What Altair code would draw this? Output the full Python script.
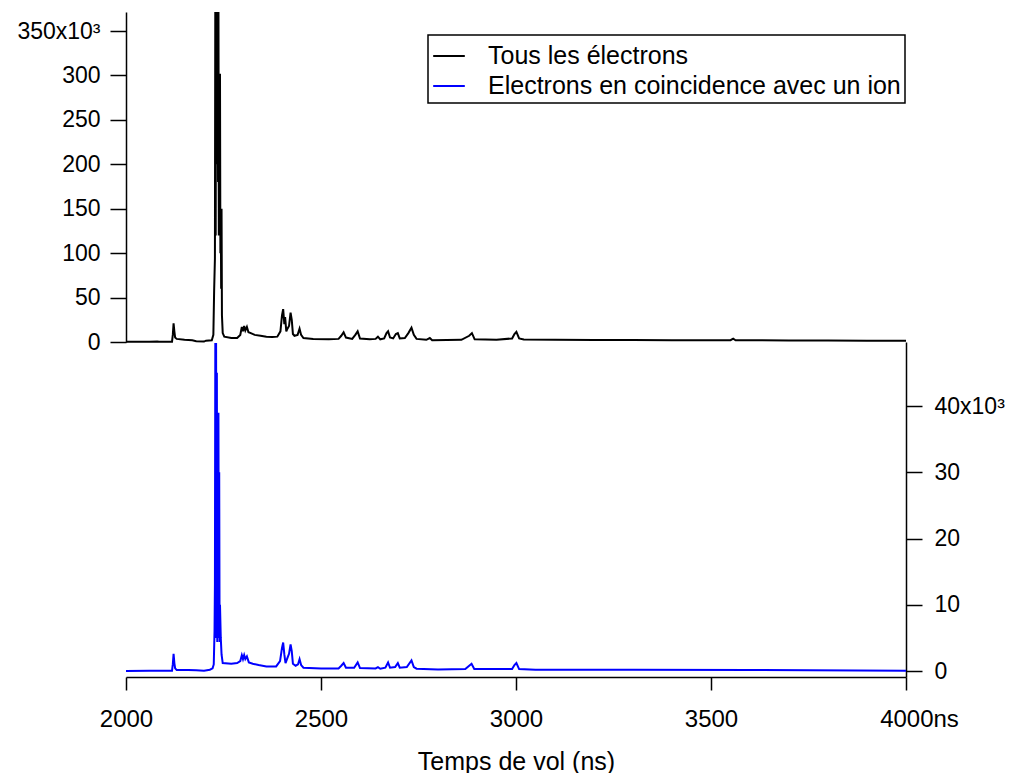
import altair as alt
import pandas as pd

S1 = "Tous les électrons"
S2 = "Electrons en coincidence avec un ion"

# Temps de vol (ns) and counts (x10^3) for all electrons
tous_t = [2000, 2060, 2080, 2085, 2118, 2120, 2122, 2124, 2126, 2130,
          2150, 2170, 2180, 2200, 2205, 2220, 2224, 2226, 2228, 2229,
          2230, 2231, 2232, 2233, 2234, 2235, 2236, 2237, 2238, 2239,
          2240, 2241, 2242, 2243, 2244, 2245, 2246, 2248, 2252, 2270,
          2285, 2293, 2297, 2300, 2303, 2306, 2310, 2314, 2320, 2330,
          2345, 2360, 2375, 2388, 2396, 2400, 2403, 2406, 2408, 2411,
          2414, 2418, 2422, 2425, 2428, 2432, 2440, 2445, 2449, 2455,
          2480, 2520, 2545, 2552, 2558, 2564, 2580, 2588, 2594, 2600,
          2625, 2640, 2646, 2652, 2662, 2668, 2672, 2677, 2685, 2692,
          2697, 2702, 2715, 2724, 2732, 2738, 2745, 2770, 2779, 2785,
          2860, 2880, 2887, 2894, 2950, 2990, 2996, 3001, 3008, 3020,
          3100, 3200, 3300, 3400, 3550, 3557, 3563, 3700, 3800, 3900,
          4000]
tous_v = [0.3, 0.3, 0.6, 0.3, 0.3, 8, 21, 12, 5, 3.5,
          2.5, 2, 0.8, 0.5, 1.5, 2, 8, 58, 94, 400,
          120, 400, 200, 400, 250, 380, 180, 400, 120, 302,
          140, 302, 100, 150, 60, 150, 30, 10, 6, 4.5,
          4.5, 8, 17, 12, 18, 13, 17, 11, 10, 8,
          7, 6, 5.5, 6, 12, 30, 37, 20, 28, 12,
          15, 18, 33, 25, 9, 7, 8, 15, 8, 4.5,
          3.5, 3, 3.5, 7, 11, 5, 3.5, 8, 12, 4,
          3, 3.5, 6, 3, 4, 10, 12, 5, 4, 9,
          10, 4, 4.5, 10, 16, 8, 3.5, 2.5, 4.5, 2,
          2.5, 7, 10, 3, 2.5, 4, 9, 11.5, 4, 2.8,
          2.5, 2.3, 2.2, 2, 2, 3.7, 2, 1.8, 1.6, 1.5,
          1.5]

# Electrons in coincidence with an ion (x10^3)
coinc_t = [2000, 2060, 2118, 2120, 2122, 2124, 2126, 2130, 2160, 2180,
           2200, 2215, 2222, 2225, 2227, 2228, 2229, 2230, 2231, 2232,
           2233, 2234, 2235, 2236, 2237, 2238, 2239, 2240, 2241, 2243,
           2245, 2248, 2270, 2285, 2293, 2297, 2300, 2303, 2306, 2310,
           2315, 2325, 2340, 2360, 2385, 2395, 2400, 2403, 2406, 2409,
           2414, 2418, 2422, 2425, 2428, 2435, 2441, 2445, 2449, 2455,
           2500, 2545, 2552, 2558, 2564, 2585, 2594, 2600, 2640, 2646,
           2652, 2665, 2672, 2677, 2690, 2697, 2702, 2720, 2732, 2738,
           2745, 2800, 2870, 2880, 2886, 2893, 2990, 2996, 3001, 3008,
           3050, 3300, 3600, 4000]
coinc_v = [0, 0.05, 0.05, 1, 2.6, 1.2, 0.4, 0.15, 0.15, 0.1,
           0.05, 0.2, 0.4, 1, 6, 13, 49.5, 5, 49.5, 6,
           45, 4.4, 39, 5, 39, 6, 30, 4.4, 10, 5,
           2.5, 1.2, 1.1, 1.2, 1.5, 2.4, 1.8, 2.4, 1.8, 2.2,
           1.3, 1.1, 0.9, 0.7, 0.7, 1.5, 3.5, 4.3, 2.5, 1.2,
           2, 2.6, 4, 3, 1.1, 0.8, 1, 1.8, 0.9, 0.5,
           0.4, 0.4, 0.8, 1.2, 0.5, 0.5, 1.3, 0.45, 0.4, 0.6,
           0.35, 0.5, 1.3, 0.5, 0.6, 1.2, 0.5, 0.6, 1.6, 0.6,
           0.35, 0.25, 0.3, 0.8, 1.1, 0.3, 0.3, 0.9, 1.2, 0.3,
           0.2, 0.2, 0.15, 0.05]

x_ticks = [2000, 2500, 3000, 3500, 4000]
top_ticks = [0, 50, 100, 150, 200, 250, 300, 350]
bottom_ticks = [0, 10, 20, 30, 40]

assert len(tous_t) == len(tous_v) and len(coinc_t) == len(coinc_v)

df = pd.concat([
    pd.DataFrame({"t": tous_t, "v": tous_v, "serie": S1}),
    pd.DataFrame({"t": coinc_t, "v": coinc_v, "serie": S2}),
])

FONT = "Liberation Sans"
W, H = 780, 665
TOP_H = 330

axis_common = dict(
    grid=False, domainColor="black", tickColor="black", domainWidth=1.5,
    tickWidth=1.5, labelColor="black", labelFont=FONT, titleFont=FONT,
    titleColor="black", labelFlush=False, labelOverlap=False,
)

x_enc = alt.X(
    "t:Q",
    scale=alt.Scale(domain=[2000, 4000], nice=False, zero=False),
    axis=alt.Axis(
        values=x_ticks, format="d",
        labelExpr="datum.value == 4000 ? '4000ns' : datum.label",
        labelOffset={"condition": {"test": "datum.value == 4000", "value": 13}, "value": 0},
        title="Temps de vol (ns)", titleFontSize=25, titleFontWeight="normal",
        titlePadding=18, labelFontSize=24, tickSize=13, labelPadding=17,
        **axis_common,
    ),
)

color_enc = alt.Color(
    "serie:N",
    scale=alt.Scale(domain=[S1, S2], range=["#000000", "#0000ff"]),
    legend=alt.Legend(
        title=None, orient="none", legendX=302, legendY=23,
        strokeColor="black", fillColor="white", padding=4,
        symbolType="stroke", symbolSize=1000, symbolStrokeWidth=2,
        labelFontSize=25, labelFont=FONT, labelColor="black",
        labelLimit=700, labelOffset=22, rowPadding=0,
    ),
)

top = alt.Chart(df).transform_filter(alt.datum.serie == S1).mark_line(
    strokeWidth=2, clip=True
).encode(
    x=x_enc,
    y=alt.Y(
        "v:Q",
        scale=alt.Scale(domain=[0, 371.4], range=[TOP_H, 0], nice=False, zero=False),
        axis=alt.Axis(
            orient="left", values=top_ticks, title=None,
            labelExpr="datum.value == 350 ? '350x10³' : datum.label",
            labelFontSize=23, tickSize=16, labelPadding=10,
            **axis_common,
        ),
    ),
    color=color_enc,
)

bottom = alt.Chart(df).transform_filter(alt.datum.serie == S2).mark_line(
    strokeWidth=2, clip=True
).encode(
    x=x_enc,
    y=alt.Y(
        "v:Q",
        scale=alt.Scale(domain=[-0.9, 49.66], range=[H, TOP_H], nice=False, zero=False),
        axis=alt.Axis(
            orient="right", values=bottom_ticks, title=None,
            labelExpr="datum.value == 40 ? '40x10³' : datum.label",
            labelFontSize=23, tickSize=16, labelPadding=12,
            **axis_common,
        ),
    ),
    color=color_enc,
)

chart = alt.layer(top, bottom).resolve_scale(y="independent").properties(
    width=W, height=H,
    autosize=alt.AutoSizeParams(type="none"),
    padding={"left": 126, "top": 12, "right": 107, "bottom": 96},
    background="white",
).configure_view(stroke=None).configure_legend(strokeWidth=1.5)

chart.save("out.html", embed_options={"renderer": "svg", "actions": False})
